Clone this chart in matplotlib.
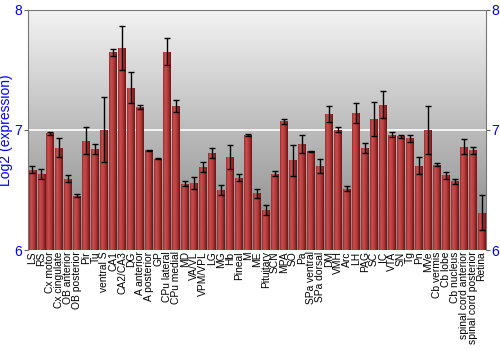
import matplotlib
matplotlib.use("Agg")
import matplotlib.pyplot as plt
import numpy as np
from matplotlib.colors import LinearSegmentedColormap

regions = ["LS", "RS", "Cx motor", "Cx cingulate", "OB anterior", "OB posterior",
           "Pir", "Tu", "ventral S", "CA1", "CA2/CA3", "DG", "A anterior",
           "A posterior", "GP", "CPu lateral", "CPu medial", "MD", "VA/VL",
           "VPM/VPL", "LG", "MG", "Hb", "Pineal", "M", "ME", "Pituitary", "SCN",
           "MPA", "SO", "Pa", "SPa ventral", "SPa dorsal", "DM", "VMH", "Arc",
           "LH", "PAG", "SC", "IC", "VTA", "SN", "Tg", "Pn", "MVe", "Cb vermis",
           "Cb lobe", "Cb nucleus", "spinal cord anterior",
           "spinal cord posterior", "Retina"]

expression = [6.667, 6.633, 6.97, 6.85, 6.594, 6.453,
              6.91, 6.84, 7.0, 7.645, 7.68, 7.35, 7.19,
              6.83, 6.76, 7.65, 7.2, 6.55, 6.555,
              6.69, 6.805, 6.50, 6.77, 6.60, 6.955, 6.47, 6.333, 6.633,
              7.07, 6.745, 6.88, 6.82, 6.70, 7.13, 7.0, 6.51,
              7.14, 6.85, 7.09, 7.21, 6.96, 6.945, 6.93, 6.70, 7.0, 6.71,
              6.62, 6.57, 6.86, 6.83, 6.31]

error = [0.03, 0.04, 0.01, 0.08, 0.03, 0.01,
         0.11, 0.04, 0.27, 0.03, 0.185, 0.13, 0.02,
         0.005, 0.005, 0.11, 0.05, 0.02, 0.05,
         0.04, 0.04, 0.04, 0.10, 0.03, 0.01, 0.04, 0.04, 0.02,
         0.02, 0.13, 0.075, 0.005, 0.06, 0.067, 0.02, 0.02,
         0.08, 0.04, 0.14, 0.11, 0.02, 0.01, 0.03, 0.07, 0.2, 0.01,
         0.03, 0.02, 0.06, 0.03, 0.145]

plt.rcParams["font.family"] = ["Liberation Sans", "DejaVu Sans"]

fig = plt.figure(figsize=(5, 3.5), dpi=100)
ax = fig.add_axes([0.056, 0.2857, 0.916, 0.687])

x = np.arange(len(regions))
ax.set_xlim(-0.5, len(regions) - 0.5)
ax.set_ylim(6, 8)

# grey background fading downwards
bg = LinearSegmentedColormap.from_list("bg", ["#848484", "#f3f3f3"])
ax.imshow(np.linspace(0, 1, 256).reshape(-1, 1), cmap=bg, aspect="auto",
          extent=[-0.5, len(regions) - 0.5, 6, 8], origin="lower", zorder=0)
ax.axhline(7, color="white", lw=1.2, zorder=1)

bars = ax.bar(x, [v - 6 for v in expression], bottom=6, width=0.88,
              color="#b03838", edgecolor="none", zorder=2)

red = LinearSegmentedColormap.from_list(
    "red", [(0, "#9a2c2c"), (0.25, "#c95050"), (0.6, "#b23a3a"), (1, "#6e1414")])
grad = np.linspace(0, 1, 64).reshape(1, -1)
for b in bars:
    im = ax.imshow(grad, cmap=red, aspect="auto", zorder=3,
                   extent=[b.get_x(), b.get_x() + b.get_width(), 6, 6 + b.get_height()])
    im.set_clip_path(b)

ax.errorbar(x, expression, yerr=error, fmt="none", ecolor="black",
            elinewidth=1, capsize=2, capthick=1, zorder=4)

ax.set_xticks(x)
ax.set_xticklabels(regions, rotation=90, fontsize=7.4)
ax.tick_params(axis="x", length=0, pad=1)
ax.set_yticks([6, 7, 8])
ax.tick_params(axis="y", labelcolor="blue", labelsize=10, length=3,
               color="#666666", right=True, labelright=True, pad=1)
ax.set_ylabel("Log2 (expression)", color="blue", fontsize=10, labelpad=1)

for s in ["left", "right", "top"]:
    ax.spines[s].set_color("#777777")
ax.spines["bottom"].set_visible(False)

fig.savefig("out.png", dpi=100)
